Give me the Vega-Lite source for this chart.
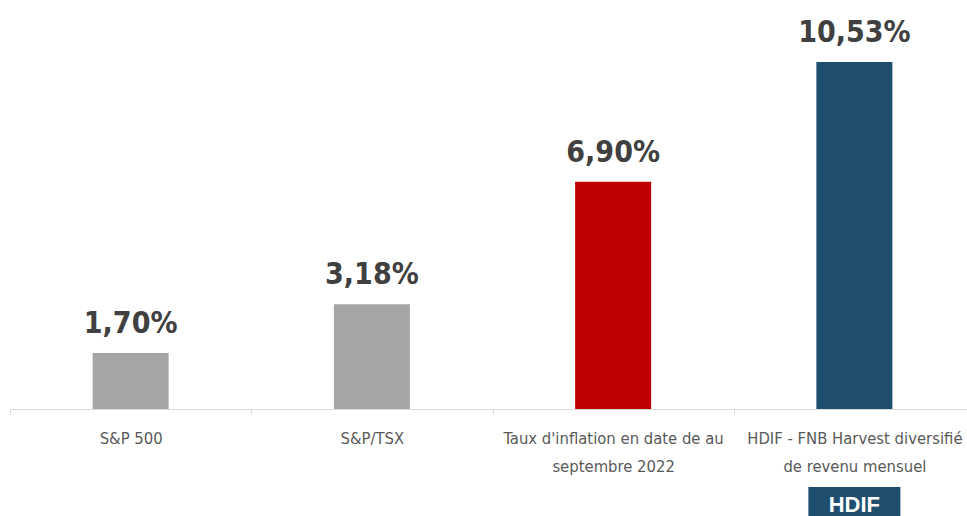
{
  "$schema": "https://vega.github.io/schema/vega-lite/v6.json",
  "width": 965,
  "height": 409,
  "autosize": {"type": "none"},
  "padding": {"left": 10, "top": 0, "right": 0, "bottom": 107},
  "background": "white",
  "config": {"view": {"stroke": null}},
  "data": {
    "values": [
      {"cat": "S&P 500", "value": 1.70, "label": "1,70%"},
      {"cat": "S&P/TSX", "value": 3.18, "label": "3,18%"},
      {"cat": "Taux d'inflation en date de au|septembre 2022", "value": 6.90, "label": "6,90%"},
      {"cat": "HDIF - FNB Harvest diversifié|de revenu mensuel", "value": 10.53, "label": "10,53%"}
    ]
  },
  "encoding": {
    "x": {
      "field": "cat",
      "type": "nominal",
      "sort": null,
      "scale": {"paddingInner": 0, "paddingOuter": 0},
      "axis": {
        "title": null,
        "labelExpr": "split(datum.label, '|')",
        "labelAngle": 0,
        "labelFontSize": 16.5,
        "labelFont": "DejaVu Sans Condensed, sans-serif",
        "labelColor": "#595959",
        "labelPadding": 16,
        "labelLineHeight": 28,
        "labelLimit": 400,
        "tickBand": "extent",
        "tickSize": 5,
        "tickColor": "#d9d9d9",
        "domainColor": "#d9d9d9",
        "domainWidth": 1
      }
    }
  },
  "layer": [
    {
      "mark": {"type": "bar", "size": 76},
      "encoding": {
        "y": {"field": "value", "type": "quantitative", "scale": {"domain": [0, 12.413], "nice": false}, "axis": null},
        "color": {
          "field": "cat",
          "type": "nominal",
          "scale": {
            "domain": ["S&P 500", "S&P/TSX", "Taux d'inflation en date de au|septembre 2022", "HDIF - FNB Harvest diversifié|de revenu mensuel"],
            "range": ["#a5a5a5", "#a5a5a5", "#c00000", "#1f4e6f"]
          },
          "legend": null
        }
      }
    },
    {
      "mark": {
        "type": "text",
        "fontSize": 30,
        "font": "DejaVu Sans Condensed, sans-serif",
        "fontWeight": "bold",
        "color": "#404040",
        "baseline": "alphabetic",
        "dy": -20
      },
      "encoding": {
        "y": {"field": "value", "type": "quantitative"},
        "text": {"field": "label"}
      }
    },
    {
      "transform": [{"filter": "datum.value > 10"}],
      "mark": {"type": "bar", "size": 92, "color": "#1f4e6f"},
      "encoding": {
        "y": {"datum": -2.367},
        "y2": {"datum": -3.6}
      }
    },
    {
      "transform": [{"filter": "datum.value > 10"}],
      "mark": {
        "type": "text",
        "text": "HDIF",
        "color": "white",
        "font": "Liberation Sans, Arial, sans-serif",
        "fontWeight": "bold",
        "fontSize": 22,
        "baseline": "alphabetic"
      },
      "encoding": {
        "y": {"datum": -3.13}
      }
    }
  ]
}
